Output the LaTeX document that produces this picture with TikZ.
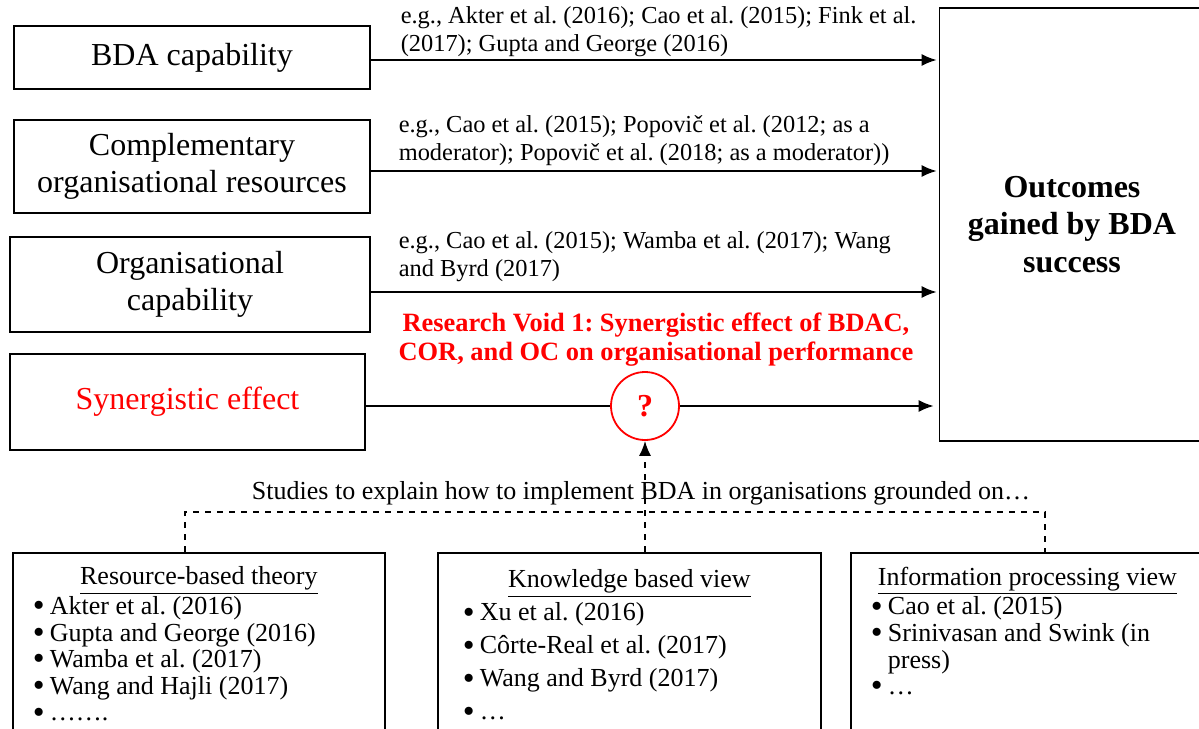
\documentclass[tikz,border=0pt]{standalone}
\usepackage{fontspec}
\setmainfont{Liberation Serif}
\frenchspacing
\usetikzlibrary{arrows.meta,shapes,calc}
\tikzset{%
  >={Latex[width=6pt,length=7.5pt]},
  % Specifications for style of nodes:
         base/.style = {rectangle, draw=black, line width=0.9pt, align=center},
    construct/.style = {base, font=\fontsize{16}{18.5}\selectfont},
      outcome/.style = {base, font=\fontsize{16}{18.8}\selectfont\bfseries},
      litview/.style = {base, anchor=north west, align=none, inner xsep=10pt, inner ysep=7pt,
                        font=\fontsize{13}{13.3}\selectfont},
         cite/.style = {align=left, inner sep=0pt, font=\fontsize{12.2}{14}\selectfont},
         void/.style = {align=center, inner sep=0pt, text=red, font=\fontsize{13.2}{14.5}\selectfont\bfseries},
     gapcircle/.style = {circle, draw=red, line width=0.9pt, minimum size=34pt, inner sep=0pt,
                        text=red, font=\fontsize{16}{18}\selectfont\bfseries},
}
\newcommand{\refitem}[1]{\par\raggedright\hangindent=8.5pt\hangafter=1\noindent
  \makebox[8.5pt][l]{\smash{\raisebox{-1.1pt}{\scalebox{1.3}{\textbullet}}}}#1}

\begin{document}
\begin{tikzpicture}[x=0.5pt, y=-0.5pt, line width=0.8pt]
  \useasboundingbox (0,0) rectangle (1199,728);
  \clip (0,0) rectangle (1199,728);

  % constructs on the left and the outcome box on the right
  \node (bdaCap)    [construct, minimum width=178pt, minimum height=31.5pt] at (192,57.5) {BDA capability};
  \node (compRes)   [construct, minimum width=178pt, minimum height=46.5pt] at (192,166.5)
                    {Complementary\\organisational resources};
  \node (orgCap)    [construct, minimum width=180pt, minimum height=47.5pt] at (190,284.5)
                    {Organisational\\capability};
  \node (synergy)   [construct, minimum width=177.5pt, minimum height=48pt, text=red] at (187.5,402)
                    {Synergistic effect};
  \node (outcomes)  [outcome, minimum width=132.5pt, minimum height=216.5pt] at (1072,224.5)
                    {Outcomes\\gained by BDA\\success};
  \node (gap)       [gapcircle] at (645,406) {?};

  % citations above the arrows
  \node (citeBdac)  [cite, anchor=west] at (400,32)
                    {e.g., Akter et al. (2016); Cao et al. (2015); Fink et al.\\(2017); Gupta and George (2016)};
  \node (citeCor)   [cite, anchor=west] at (398,141)
                    {e.g., Cao et al. (2015); Popovič et al. (2012; as a\\moderator); Popovič et al. (2018; as a moderator))};
  \node (citeOc)    [cite, anchor=west] at (398,256.5)
                    {e.g., Cao et al. (2015); Wamba et al. (2017); Wang\\and Byrd (2017)};
  \node (voidOne)   [void] at (656,339.5)
                    {Research Void 1: Synergistic effect of BDAC,\\COR, and OC on organisational performance};
  \node (studies)   [cite] at (641,493)
                    {\fontsize{13}{14}\selectfont Studies to explain how to implement BDA in organisations grounded on…};

  % theory boxes at the bottom
  \node (rbt) [litview, text width=166pt] at (12,552)
      {{\centering\underline{Resource-based theory}\par}
       \refitem{Akter et al. (2016)}
       \refitem{Gupta and George (2016)}
       \refitem{Wamba et al. (2017)}
       \refitem{Wang and Hajli (2017)}
       \refitem{…….}\rule[-60pt]{0pt}{0pt}};
  \node (kbv) [litview, text width=166.5pt, inner xsep=12.5pt, inner ysep=8.5pt,
               font=\fontsize{13}{16.5}\selectfont] at (437,552)
      {{\centering\underline{Knowledge based view}\par}
       \refitem{Xu et al. (2016)}
       \refitem{Côrte-Real et al. (2017)}
       \refitem{Wang and Byrd (2017)}
       \refitem{…}\rule[-60pt]{0pt}{0pt}};
  \node (ipv) [litview, text width=156.5pt] at (850,552)
      {{\centering\underline{Information processing view}\par}
       \refitem{Cao et al. (2015)}
       \refitem{Srinivasan and Swink (in press)}
       \refitem{…}\rule[-60pt]{0pt}{0pt}};

  \coordinate (leftDrop)  at (185,512);
  \coordinate (rightDrop) at (1045,512);

  % Specification of lines between nodes
  \draw[->, shorten >=1pt] ([yshift=-1.25pt]bdaCap.east) -- ([yshift=-1.25pt]bdaCap.east -| outcomes.west);
  \draw[->, shorten >=1pt] ([yshift=-2.25pt]compRes.east) -- ([yshift=-2.25pt]compRes.east -| outcomes.west);
  \draw[->, shorten >=1pt] ([yshift=-3.75pt]orgCap.east) -- ([yshift=-3.75pt]orgCap.east -| outcomes.west);
  \draw                   (synergy.east |- gap.west) -- (gap.west);
  \draw[->, shorten >=2.5pt] (gap.east) -- (gap.east -| outcomes.west);

  \draw[dashed] (leftDrop |- rbt.north) -- (leftDrop) -- (rightDrop) -- (rightDrop |- ipv.north);
  \draw[->, dashed] (gap.south |- kbv.north) -- (gap.south);
\end{tikzpicture}
\end{document}
